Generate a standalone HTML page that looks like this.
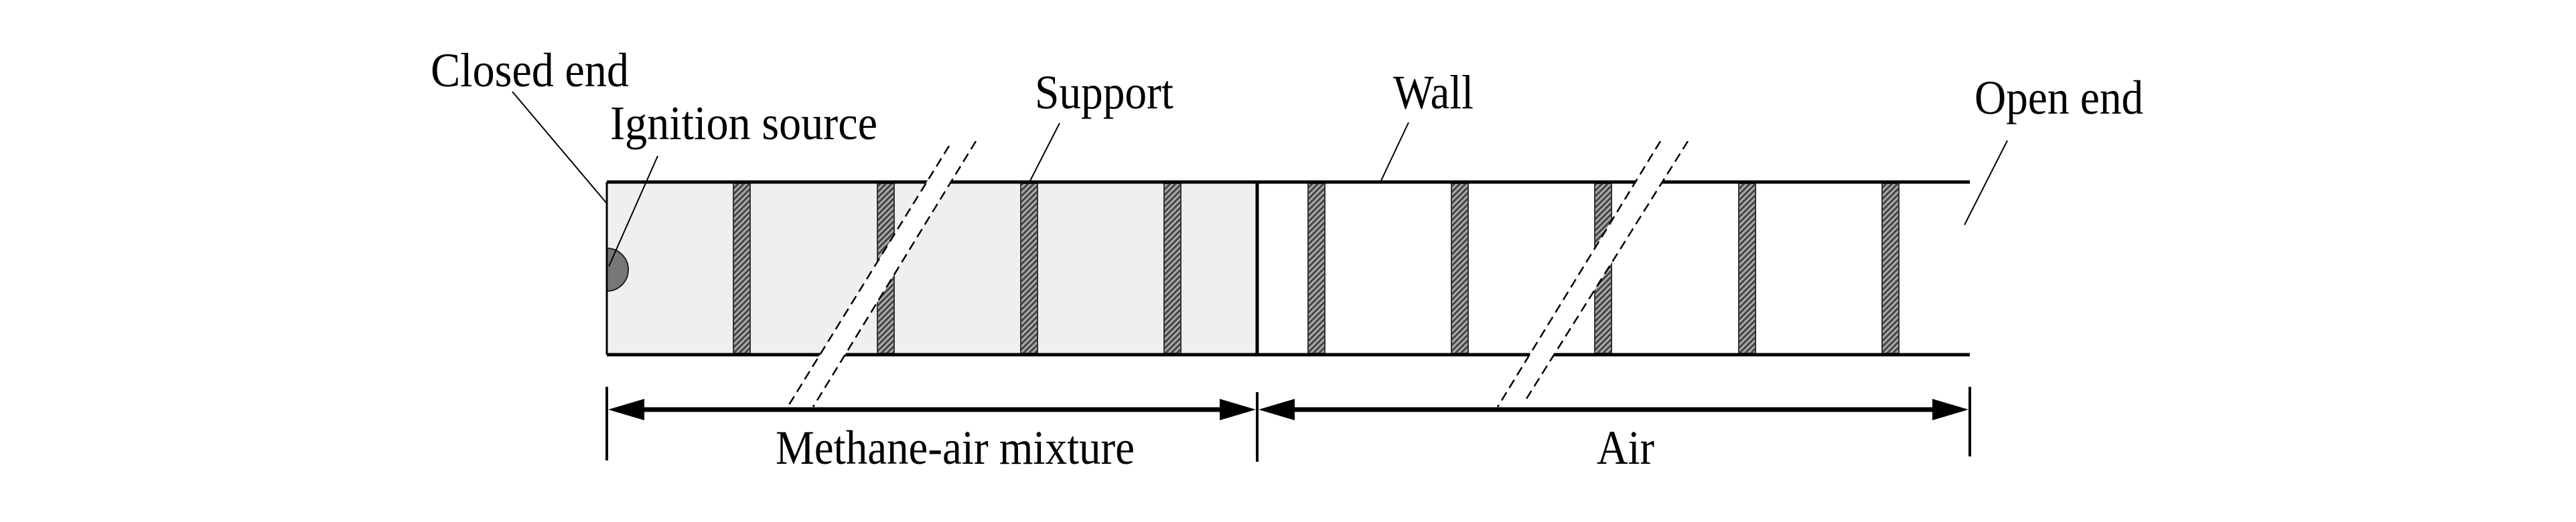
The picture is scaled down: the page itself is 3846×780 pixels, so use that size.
<!DOCTYPE html>
<html><head><meta charset="utf-8"><style>
html,body{margin:0;padding:0;background:#fff;}
svg{display:block;}
text{font-family:"Liberation Serif",serif;font-size:72px;fill:#000;}
</style></head><body>
<svg width="3846" height="780" viewBox="0 0 3846 780" xmlns="http://www.w3.org/2000/svg">
<defs>
<pattern id="h" width="6" height="6" patternUnits="userSpaceOnUse" patternTransform="rotate(45)">
<rect width="6" height="6" fill="#aaa"/><rect width="3" height="6" fill="#444"/>
</pattern>
</defs>
<rect x="906" y="272" width="971" height="258" fill="#efefef"/>
<g fill="url(#h)" stroke="#333" stroke-width="2">
<rect x="1095" y="274" width="25" height="254"/>
<rect x="1310" y="274" width="25" height="254"/>
<rect x="1524" y="274" width="25" height="254"/>
<rect x="1738" y="274" width="25" height="254"/>
<rect x="1953" y="274" width="25" height="254"/>
<rect x="2167" y="274" width="25" height="254"/>
<rect x="2381" y="274" width="25" height="254"/>
<rect x="2596" y="274" width="25" height="254"/>
<rect x="2810" y="274" width="25" height="254"/>
</g>
<path d="M906 371 A32 32 0 0 1 906 435 Z" fill="#777" stroke="#222" stroke-width="2"/>
<g stroke="#000" stroke-width="5" fill="none">
<line x1="906" y1="272" x2="2941" y2="272"/>
<line x1="906" y1="530" x2="2941" y2="530"/>
<line x1="1877" y1="272" x2="1877" y2="530"/>
</g>
<line x1="906" y1="272" x2="906" y2="530" stroke="#000" stroke-width="3"/>
<polygon points="1417,218 1457,211 1214,608 1176,608" fill="#fff"/>
<polygon points="2479,211 2520,211 2277,599 2236,608" fill="#fff"/>
<g stroke="#000" stroke-width="2.5" stroke-dasharray="14,8">
<line x1="1417" y1="218" x2="1176" y2="608"/>
<line x1="1457" y1="211" x2="1214" y2="608"/>
<line x1="2479" y1="211" x2="2236" y2="608"/>
<line x1="2520" y1="211" x2="2277" y2="599"/>
</g>
<g stroke="#000">
<line x1="906" y1="578" x2="906" y2="688" stroke-width="4"/>
<line x1="1877" y1="586" x2="1877" y2="690" stroke-width="4"/>
<line x1="2941" y1="578" x2="2941" y2="682" stroke-width="4"/>
<line x1="950" y1="612" x2="1830" y2="612" stroke-width="7"/>
<line x1="1920" y1="612" x2="2895" y2="612" stroke-width="7"/>
</g>
<g fill="#000">
<polygon points="908,612 962,596 962,628"/>
<polygon points="1875,612 1821,596 1821,628"/>
<polygon points="1879,612 1933,596 1933,628"/>
<polygon points="2939,612 2885,596 2885,628"/>
</g>
<g stroke="#000" stroke-width="2">
<line x1="765" y1="137" x2="906" y2="304"/>
<line x1="982" y1="233" x2="909" y2="398"/>
<line x1="1582" y1="184" x2="1537" y2="272"/>
<line x1="2103" y1="183" x2="2061" y2="272"/>
<line x1="2997" y1="210" x2="2933" y2="336"/>
</g>
<text x="643" y="129" textLength="296" lengthAdjust="spacingAndGlyphs">Closed end</text>
<text x="911" y="208" textLength="399" lengthAdjust="spacingAndGlyphs">Ignition source</text>
<text x="1545" y="162" textLength="207" lengthAdjust="spacingAndGlyphs">Support</text>
<text x="2080" y="162" textLength="120" lengthAdjust="spacingAndGlyphs">Wall</text>
<text x="2948" y="170" textLength="252" lengthAdjust="spacingAndGlyphs">Open end</text>
<text x="1158" y="693" textLength="536" lengthAdjust="spacingAndGlyphs">Methane-air mixture</text>
<text x="2384" y="693" textLength="86" lengthAdjust="spacingAndGlyphs">Air</text>
</svg>
</body></html>
